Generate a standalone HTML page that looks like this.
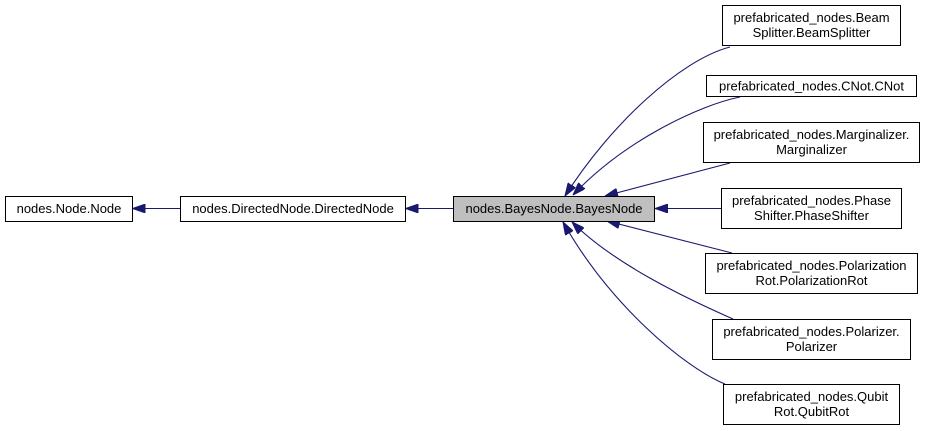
<!DOCTYPE html>
<html><head><meta charset="utf-8"><style>
html,body{margin:0;padding:0;background:#fff;}
svg{display:block;}
text{font-family:"Liberation Sans",Arial,sans-serif;font-size:13px;fill:#000;}
</style></head><body>
<svg width="925" height="431" viewBox="0 0 925 431" xmlns="http://www.w3.org/2000/svg">
<defs>
<marker id="ah" viewBox="0 0 13 9" refX="13" refY="4.5" markerWidth="13" markerHeight="9" markerUnits="userSpaceOnUse" orient="auto">
<path d="M0,0 L13,4.5 L0,9 z" fill="#191970" stroke="#191970" stroke-width="1"/>
</marker>
</defs>
<g fill="none" stroke="#191970" stroke-width="1.1">
<path d="M180,208.5 L132.5,208.5" marker-end="url(#ah)"/>
<path d="M453,208.5 L405.5,208.5" marker-end="url(#ah)"/>
<path d="M721,208.5 L655,208.5" marker-end="url(#ah)"/>
<path d="M730,47 C680,60 610,125 565,196" marker-end="url(#ah)"/>
<path d="M740,97 C700,105 625,140 573,195" marker-end="url(#ah)"/>
<path d="M730,163 L605,196" marker-end="url(#ah)"/>
<path d="M732,253 L607,221" marker-end="url(#ah)"/>
<path d="M733,319 C690,300 615,265 572,222" marker-end="url(#ah)"/>
<path d="M725,384 C685,368 610,305 563,222" marker-end="url(#ah)"/>
</g>
<g stroke="#000" stroke-width="1">
<rect x="5.5" y="196.5" width="127" height="25" fill="#fff"/>
<rect x="180.5" y="196.5" width="225" height="25" fill="#fff"/>
<rect x="453.5" y="196.5" width="201" height="25" fill="#bfbfbf"/>
<rect x="722.5" y="5.5" width="178" height="40" fill="#fff"/>
<rect x="706.5" y="75.5" width="210" height="21" fill="#fff"/>
<rect x="703.5" y="122.5" width="216" height="40" fill="#fff"/>
<rect x="721.5" y="188.5" width="180" height="40" fill="#fff"/>
<rect x="705.5" y="253.5" width="212" height="40" fill="#fff"/>
<rect x="712.5" y="319.5" width="198" height="40" fill="#fff"/>
<rect x="723.5" y="384.5" width="176" height="40" fill="#fff"/>
</g>
<g text-anchor="middle">
<text x="69" y="213">nodes.Node.Node</text>
<text x="293" y="213">nodes.DirectedNode.DirectedNode</text>
<text x="554" y="213">nodes.BayesNode.BayesNode</text>
<text x="811.5" y="22">prefabricated_nodes.Beam</text>
<text x="811.5" y="37">Splitter.BeamSplitter</text>
<text x="811.5" y="90.5">prefabricated_nodes.CNot.CNot</text>
<text x="811.5" y="139">prefabricated_nodes.Marginalizer.</text>
<text x="811.5" y="154">Marginalizer</text>
<text x="811.5" y="205">prefabricated_nodes.Phase</text>
<text x="811.5" y="220">Shifter.PhaseShifter</text>
<text x="811.5" y="270">prefabricated_nodes.Polarization</text>
<text x="811.5" y="285">Rot.PolarizationRot</text>
<text x="811.5" y="336">prefabricated_nodes.Polarizer.</text>
<text x="811.5" y="351">Polarizer</text>
<text x="811.5" y="401">prefabricated_nodes.Qubit</text>
<text x="811.5" y="416">Rot.QubitRot</text>
</g>
</svg>
</body></html>
